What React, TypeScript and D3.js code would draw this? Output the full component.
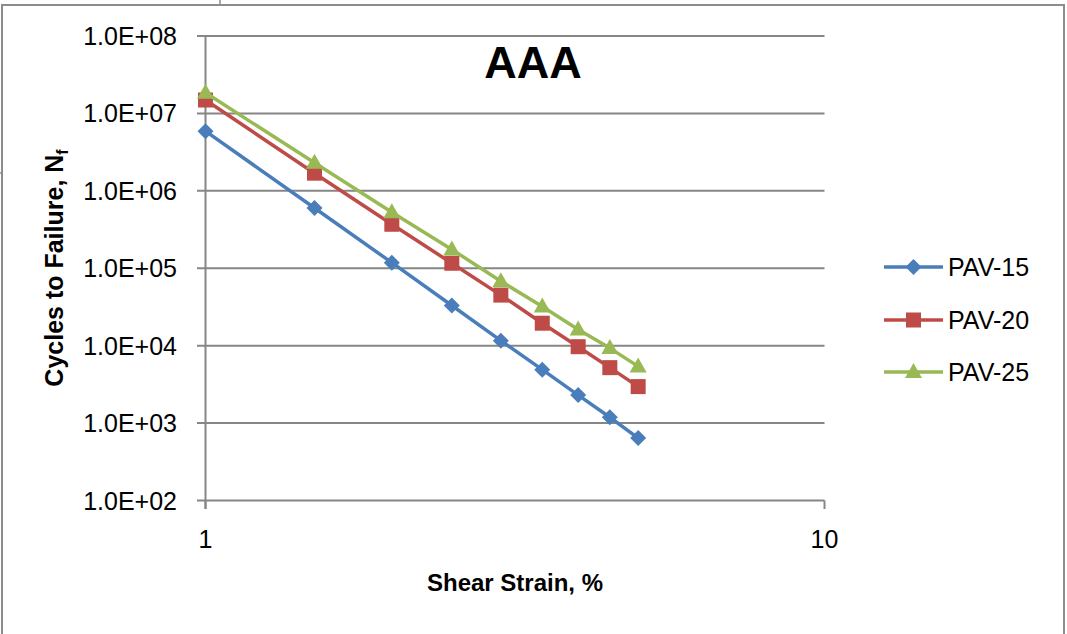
import React from "react";
import * as d3 from "d3";

const strain = [1, 1.5, 2, 2.5, 3, 3.5, 4, 4.5, 5];
const pav15 = [5.9e6, 6.0e5, 1.18e5, 3.3e4, 1.16e4, 4.9e3, 2.3e3, 1.19e3, 640];
const pav20 = [1.49e7, 1.69e6, 3.7e5, 1.16e5, 4.5e4, 1.95e4, 9.7e3, 5.2e3, 2.96e3];
const pav25 = [1.85e7, 2.3e6, 5.3e5, 1.75e5, 6.8e4, 3.2e4, 1.62e4, 9.3e3, 5.4e3];
const yTicks = [1e2, 1e3, 1e4, 1e5, 1e6, 1e7, 1e8];
const xTicks = [1, 10];
const seriesNames = ["PAV-15", "PAV-20", "PAV-25"];
const seriesColors = ["#4A7EBB", "#BE4B48", "#98B954"];
const seriesShapes = ["diamond", "square", "triangle"];

const W = 1067;
const H = 634;
const FONT = "'Liberation Sans', Arial, sans-serif";

function Marker({ shape, x, y, color }: { shape: string; x: number; y: number; color: string }) {
  if (shape === "diamond") {
    const r = 8;
    return <path d={`M${x},${y - r}L${x + r},${y}L${x},${y + r}L${x - r},${y}Z`} fill={color} />;
  }
  if (shape === "square") {
    const s = 15;
    return <rect x={x - s / 2} y={y - s / 2} width={s} height={s} fill={color} />;
  }
  const hw = 8.5;
  return <path d={`M${x},${y - 9}L${x + hw},${y + 6}L${x - hw},${y + 6}Z`} fill={color} />;
}

export default function App() {
  const x = d3.scaleLog().domain([1, 10]).range([205.5, 824.5]);
  const y = d3.scaleLog().domain([1e2, 1e8]).range([500.5, 36]);
  const data = [pav15, pav20, pav25];
  const line = d3
    .line<[number, number]>()
    .x((d) => x(d[0]))
    .y((d) => y(d[1]));
  const fmt = (v: number) => {
    const e = Math.round(Math.log10(v));
    return `1.0E+${String(e).padStart(2, "0")}`;
  };
  const grid = "#868686";
  const legendY = [267, 320, 372];

  return (
    <svg
      width={W}
      height={H}
      style={{ position: "absolute", left: 0, top: 0, background: "#fff" }}
      fontFamily={FONT}
    >
      <rect x={0} y={0} width={W} height={H} fill="#fff" />
      {/* outer border */}
      <rect x={2} y={5} width={1062} height={H + 10} fill="none" stroke="#8c8c8c" strokeWidth={2} />
      <line x1={220} y1={0} x2={220} y2={5} stroke="#8c8c8c" strokeWidth={1.5} />
      <line x1={0} y1={173} x2={3} y2={173} stroke="#8c8c8c" strokeWidth={1.5} />

      {/* horizontal gridlines + y ticks */}
      {yTicks.map((t) => (
        <g key={t}>
          <line x1={197} x2={x(10)} y1={y(t)} y2={y(t)} stroke={grid} strokeWidth={2} />
          <text x={177} y={y(t)} dy="0.36em" textAnchor="end" fontSize={25} fill="#000">
            {fmt(t)}
          </text>
        </g>
      ))}
      {/* y axis line */}
      <line x1={x(1)} x2={x(1)} y1={y(1e8)} y2={509} stroke={grid} strokeWidth={2} />
      {/* x ticks */}
      {xTicks.map((t) => (
        <g key={t}>
          <line x1={x(t)} x2={x(t)} y1={y(1e2)} y2={509} stroke={grid} strokeWidth={2} />
          <text x={x(t)} y={548} textAnchor="middle" fontSize={25} fill="#000">
            {t}
          </text>
        </g>
      ))}

      {/* series */}
      {data.map((vals, i) => {
        const pts: [number, number][] = strain.map((s, j) => [s, vals[j]]);
        return (
          <g key={seriesNames[i]}>
            <path d={line(pts) || ""} fill="none" stroke={seriesColors[i]} strokeWidth={3.5} strokeLinejoin="round" />
            {pts.map((p, j) => (
              <Marker key={j} shape={seriesShapes[i]} x={x(p[0])} y={y(p[1])} color={seriesColors[i]} />
            ))}
          </g>
        );
      })}

      {/* title */}
      <text x={533} y={78} textAnchor="middle" fontSize={45} fontWeight="bold" fill="#000">
        AAA
      </text>

      {/* axis titles */}
      <text x={515} y={591} textAnchor="middle" fontSize={24} fontWeight="bold" fill="#000">
        Shear Strain, %
      </text>
      <text
        transform="translate(63,268) rotate(-90)"
        textAnchor="middle"
        fontSize={25}
        fontWeight="bold"
        fill="#000"
      >
        Cycles to Failure, N
        <tspan fontSize={16} dy={5}>f</tspan>
      </text>

      {/* legend */}
      {seriesNames.map((n, i) => (
        <g key={n}>
          <line x1={884} x2={943} y1={legendY[i]} y2={legendY[i]} stroke={seriesColors[i]} strokeWidth={3.5} />
          <Marker shape={seriesShapes[i]} x={913.5} y={legendY[i]} color={seriesColors[i]} />
          <text x={948} y={legendY[i]} dy="0.36em" fontSize={25} fill="#000">
            {n}
          </text>
        </g>
      ))}
    </svg>
  );
}
